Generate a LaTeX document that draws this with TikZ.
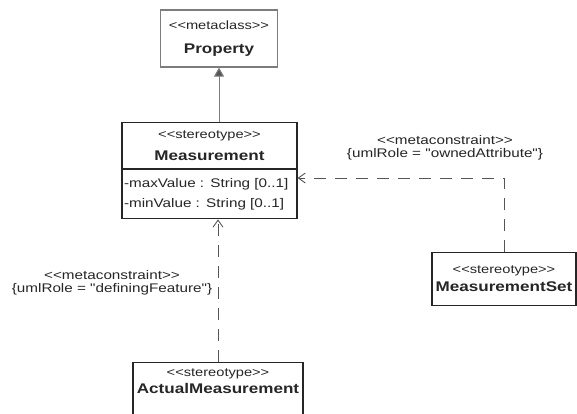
\documentclass[tikz,border=0pt]{standalone}
\usepackage{fontspec}
\setmainfont{Liberation Sans}[FakeStretch=1.22, Ligatures=TeXOff]
\usetikzlibrary{arrows.meta,positioning}
\definecolor{umlink}{RGB}{38, 38, 38}
\definecolor{umlgray}{RGB}{125, 125, 125}
\definecolor{umlhead}{RGB}{85, 85, 85}

\newcommand{\umlstereo}[1]{{\fontsize{12}{12}\selectfont <<#1>>}}
\newcommand{\umlname}[1]{{\fontsize{14}{14}\selectfont\bfseries #1}}

\tikzset{
  classbox/.style = {
    draw        = umlink,
    line width  = 1.2pt,
    fill        = white,
    text        = umlink,
    inner sep   = 0pt,
    align       = center
  },
  constraint/.style = {
    draw        = umlhead,
    line width  = 0.9pt,
    dash pattern = on 12pt off 9pt,
    -{Straight Barb[length=7pt,width=10pt]}
  },
  rolelabel/.style = {
    text        = umlink,
    align       = center,
    font        = \fontsize{12.5}{13.5}\selectfont
  }
}

\begin{document}
\begin{tikzpicture}[x=1pt, y=-1pt]
  \path[fill=white, use as bounding box] (0,0) rectangle (577,413);

  % classes
  \node[classbox, draw=umlgray, minimum width=117pt, minimum height=57pt,
        font=\fontsize{12}{24}\selectfont] (property) at (219,38.5)
    {\umlstereo{metaclass}\\\umlname{Property}};

  \node[classbox, minimum width=175pt, minimum height=46pt,
        font=\fontsize{12}{22}\selectfont, anchor=north] (measurement) at (209.5,122)
    {\umlstereo{stereotype}\\\umlname{Measurement}};
  \node[classbox, minimum width=175pt, minimum height=49pt, anchor=north,
        text width=171pt, align=left, font=\fontsize{12.5}{20}\selectfont]
        (measattr) at (measurement.south)
    {-maxValue : String [0..1]\\-minValue : String [0..1]};

  \node[classbox, minimum width=144pt, minimum height=53pt,
        font=\fontsize{12}{18}\selectfont, anchor=north] (measset) at (504,252)
    {\umlstereo{stereotype}\\\umlname{MeasurementSet}};

  \node[classbox, minimum width=170pt, inner ysep=6pt, text depth=40pt,
        font=\fontsize{12}{17}\selectfont, anchor=north] (actual) at (218,362)
    {\umlstereo{stereotype}\\\umlname{ActualMeasurement}};

  % generalization
  \draw[umlgray, line width=1pt,
        -{Triangle[length=9pt,width=10pt,fill=umlhead]}]
    (measurement.north -| property.south) -- (property.south);

  % metaconstraints
  \coordinate (ownedbend) at (504,178);
  \draw[constraint] (measset.north) -- (ownedbend) -- (ownedbend -| measattr.east);
  \draw[constraint] (actual.north) -- (actual.north |- measattr.south);

  \node[rolelabel] (ownedrole) at (445,148)
    {<<metaconstraint>>\\\{umlRole = "ownedAttribute"\}};
  \node[rolelabel] (definingrole) at (112,283)
    {<<metaconstraint>>\\\{umlRole = "definingFeature"\}};
\end{tikzpicture}
\end{document}
